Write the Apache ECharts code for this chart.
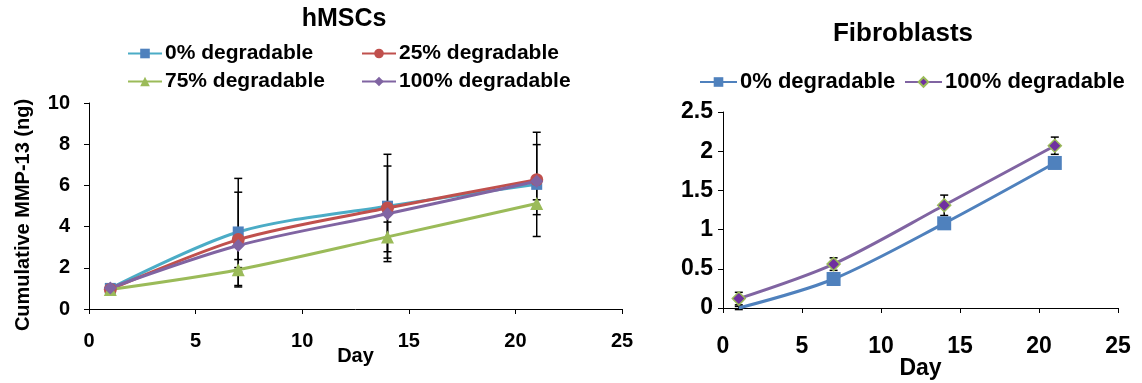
<!DOCTYPE html>
<html>
<head>
<meta charset="utf-8">
<script src="https://cdn.jsdelivr.net/npm/echarts@6/dist/echarts.min.js"></script>
<style>
  html, body { margin: 0; padding: 0; background: #fff; }
  #main { width: 1142px; height: 383px; }
</style>
</head>
<body>
<div id="main"></div>
<script>
(function() {
  var FONT = '"Liberation Sans", Arial, sans-serif';

  // sampling days
  var days = [1, 7, 14, 21];

  // hMSCs, cumulative MMP-13 (ng)
  var hmscNames = ['0% degradable', '25% degradable', '75% degradable', '100% degradable'];
  var hmsc0 = [1.0, 3.74, 4.99, 6.05];
  var hmsc25 = [0.95, 3.37, 4.9, 6.28];
  var hmsc75 = [0.95, 1.91, 3.5, 5.12];
  var hmsc100 = [1.02, 3.08, 4.62, 6.2];
  // +/- error
  var hmsc0Err = [0.08, 2.6, 2.52, 2.53];
  var hmsc25Err = [0.08, 2.3, 0.3, 1.7];
  var hmsc75Err = [0.08, 0.1, 0.72, 0.18];
  var hmsc100Err = [0.08, 0.68, 2.32, 0.2];

  // Fibroblasts
  var fibNames = ['0% degradable', '100% degradable'];
  var fib0 = [0.0, 0.37, 1.08, 1.85];
  var fib100 = [0.12, 0.56, 1.31, 2.07];
  var fib0Err = [0.02, 0.05, 0.05, 0.06];
  var fib100Err = [0.08, 0.08, 0.13, 0.11];

  // tick labels
  var dayTicks = [0, 5, 10, 15, 20, 25];

  var myChart = echarts.init(document.getElementById('main'));

  function pairs(vals) {
    return vals.map(function(v, i) { return [days[i], v]; });
  }

  function errData(vals, errs) {
    return vals.map(function(v, i) { return [days[i], v - errs[i], v + errs[i]]; });
  }

  function errSeries(idx, vals, errs) {
    return {
      type: 'custom',
      xAxisIndex: idx,
      yAxisIndex: idx,
      z: 1,
      silent: true,
      data: errData(vals, errs),
      renderItem: function(params, api) {
        var lo = api.coord([api.value(0), api.value(1)]);
        var hi = api.coord([api.value(0), api.value(2)]);
        var w = 4;
        var style = { stroke: '#000', lineWidth: 1.5 };
        return {
          type: 'group',
          children: [
            { type: 'line', shape: { x1: lo[0], y1: lo[1], x2: hi[0], y2: hi[1] }, style: style },
            { type: 'line', shape: { x1: lo[0] - w, y1: lo[1], x2: lo[0] + w, y2: lo[1] }, style: style },
            { type: 'line', shape: { x1: hi[0] - w, y1: hi[1], x2: hi[0] + w, y2: hi[1] }, style: style }
          ]
        };
      }
    };
  }

  function lineSeries(name, idx, vals, lineColor, symbol, size, fill, border) {
    return {
      name: name,
      type: 'line',
      xAxisIndex: idx,
      yAxisIndex: idx,
      z: 3,
      smooth: 0.3,
      data: pairs(vals),
      symbol: symbol,
      symbolSize: size,
      lineStyle: { color: lineColor, width: 3 },
      itemStyle: { color: fill, borderColor: border || fill, borderWidth: border ? 1.5 : 0 },
      emphasis: { disabled: true }
    };
  }

  function axisCommon(fontSize) {
    return {
      nameMoveOverlap: false,
      axisLine: { show: true, lineStyle: { color: '#000', width: 1 } },
      axisTick: { show: true, length: 5, lineStyle: { color: '#000' } },
      splitLine: { show: false },
      axisLabel: { color: '#000', fontFamily: FONT, fontWeight: 'bold', fontSize: fontSize },
      nameTextStyle: { color: '#000', fontFamily: FONT, fontWeight: 'bold', fontSize: fontSize }
    };
  }

  function legendAt(left, top, name, label, size, lineLen) {
    return {
      left: left,
      top: top,
      data: [name],
      itemWidth: lineLen,
      itemHeight: 12,
      selectedMode: false,
      formatter: function() { return label; },
      textStyle: { color: '#000', fontFamily: FONT, fontWeight: 'bold', fontSize: size, padding: [0, 0, 0, -2] }
    };
  }

  var xLeft = echarts.util.merge(axisCommon(20), {
    gridIndex: 0, type: 'value', min: 0, max: 25, interval: 5,
    name: 'Day', nameLocation: 'middle', nameGap: 37,
    axisLabel: { margin: 22 }
  }, true);
  var yLeft = echarts.util.merge(axisCommon(20), {
    gridIndex: 0, type: 'value', min: 0, max: 10, interval: 2,
    name: 'Cumulative MMP-13 (ng)', nameLocation: 'middle', nameGap: 56,
    nameTextStyle: { padding: [0, 18, 0, 0] },
    axisLabel: { margin: 19 }
  }, true);
  var xRight = echarts.util.merge(axisCommon(23), {
    gridIndex: 1, type: 'value', min: 0, max: 25, interval: 5,
    name: 'Day', nameLocation: 'middle', nameGap: 49,
    axisLabel: { margin: 27 }
  }, true);
  var yRight = echarts.util.merge(axisCommon(23), {
    gridIndex: 1, type: 'value', min: 0, max: 2.5, interval: 0.5,
    axisLabel: { margin: 10 }
  }, true);
  xLeft.axisLabel.formatter = xRight.axisLabel.formatter = function(v) {
    return dayTicks.indexOf(v) >= 0 ? String(v) : '';
  };

  var option = {
    backgroundColor: '#fff',
    animation: false,
    title: [
      { text: 'hMSCs', left: 339, top: 2, textAlign: 'center',
        textStyle: { fontFamily: FONT, fontWeight: 'bold', fontSize: 25, color: '#000' } },
      { text: 'Fibroblasts', left: 898, top: 16, textAlign: 'center',
        textStyle: { fontFamily: FONT, fontWeight: 'bold', fontSize: 26, color: '#000' } }
    ],
    legend: [
      legendAt(122, 38, 'h0', hmscNames[0], 21, 34),
      legendAt(356, 38, 'h25', hmscNames[1], 21, 34),
      legendAt(122, 66, 'h75', hmscNames[2], 21, 34),
      legendAt(356, 66, 'h100', hmscNames[3], 21, 34),
      legendAt(694, 66, 'f0', fibNames[0], 22, 37),
      legendAt(899, 66, 'f100', fibNames[1], 22, 37)
    ],
    grid: [
      { left: 89, top: 103, width: 533, height: 206, outerBoundsMode: 'none' },
      { left: 723, top: 112, width: 395, height: 196, outerBoundsMode: 'none' }
    ],
    xAxis: [xLeft, xRight],
    yAxis: [yLeft, yRight],
    series: [
      errSeries(0, hmsc0, hmsc0Err),
      errSeries(0, hmsc25, hmsc25Err),
      errSeries(0, hmsc75, hmsc75Err),
      errSeries(0, hmsc100, hmsc100Err),
      lineSeries('h0', 0, hmsc0, '#4BACC6', 'rect', 11, '#4F81BD'),
      lineSeries('h25', 0, hmsc25, '#C0504D', 'circle', 13, '#C0504D'),
      lineSeries('h75', 0, hmsc75, '#9BBB59', 'triangle', 13, '#9BBB59'),
      lineSeries('h100', 0, hmsc100, '#8064A2', 'diamond', 13, '#8064A2'),
      errSeries(1, fib0, fib0Err),
      errSeries(1, fib100, fib100Err),
      lineSeries('f0', 1, fib0, '#4F81BD', 'rect', 14, '#4F81BD'),
      lineSeries('f100', 1, fib100, '#8064A2', 'diamond', 13, '#7030A0', '#9BBB59')
    ]
  };
  // first fibroblast point sits on the axis with no marker
  option.series[10].symbolSize = function(v, p) { return p.dataIndex === 0 ? 0 : 14; };

  myChart.setOption(option);
})();
</script>
</body>
</html>
